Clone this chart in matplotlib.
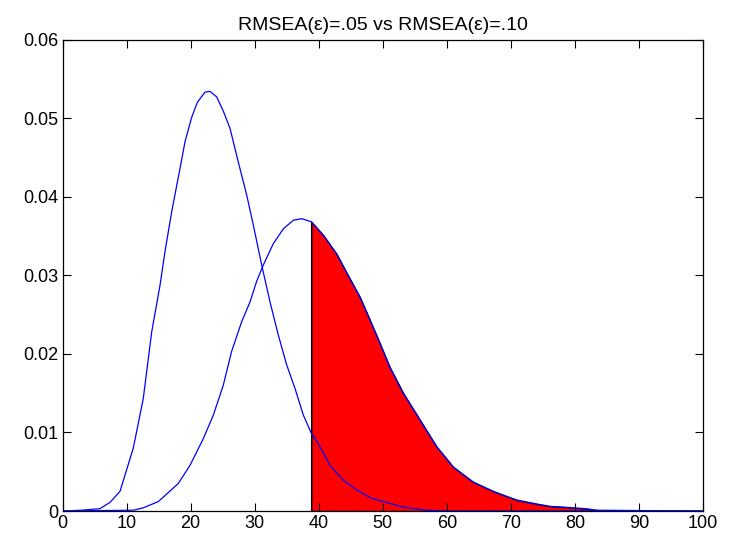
import matplotlib
matplotlib.use("Agg")
import matplotlib.pyplot as plt
import numpy as np

# Curve 1: RMSEA = .05 (left density)
x1 = [0, 3.0, 5.85, 7.42, 8.98, 11.05, 12.61, 13.93, 15.22, 16.0, 17.05, 18.35,
      19.13, 20.17, 21.05, 22.25, 23.03, 24.07, 25.1, 26.15, 27.45, 28.76, 29.79,
      31.1, 32.4, 33.69, 35.0, 36.3, 37.6, 38.85, 40.2, 41.76, 43.84, 45.93,
      48.0, 50.1, 53.2, 56.6, 60, 100]
y1 = [0, 0.0001, 0.0003, 0.0011, 0.0025, 0.0080, 0.0143, 0.0228, 0.0287, 0.0330,
      0.0381, 0.0436, 0.0470, 0.0501, 0.0520, 0.0533, 0.0534, 0.0527, 0.0509,
      0.0487, 0.0444, 0.0402, 0.0364, 0.0313, 0.0266, 0.0224, 0.0186, 0.0156,
      0.0122, 0.0099, 0.0082, 0.0058, 0.0039, 0.0027, 0.0017, 0.0012, 0.0005,
      0.0001, 0, 0]

# Curve 2: RMSEA = .10 (right density)
x2 = [0, 11.05, 12.6, 14.96, 18.08, 19.9, 21.98, 23.55, 25.1, 26.4, 27.98, 29.27,
      30.3, 31.35, 32.9, 34.47, 36.03, 37.35, 38.85, 40.72, 42.8, 44.37, 46.45,
      48.0, 49.57, 51.1, 53.2, 55.8, 58.4, 61.0, 64.1, 67.26, 70.9, 74.0, 76.1,
      78.1, 81.6, 83.5, 100]
y2 = [0, 0.0001, 0.0004, 0.0012, 0.0035, 0.0058, 0.0092, 0.0122, 0.0160, 0.0203,
      0.0241, 0.0266, 0.0292, 0.0313, 0.0340, 0.0359, 0.0370, 0.0372, 0.0368,
      0.0351, 0.0327, 0.0303, 0.0272, 0.0243, 0.0213, 0.0183, 0.0150, 0.0116,
      0.0082, 0.0056, 0.0037, 0.0025, 0.0014, 0.0009, 0.0006, 0.0005, 0.0003,
      0.0001, 0]

critical = 38.85
title = "RMSEA(ε)=.05 vs RMSEA(ε)=.10"
xticks = list(range(0, 101, 10))
yticks = [0, 0.01, 0.02, 0.03, 0.04, 0.05, 0.06]
ytick_labels = ["0", "0.01", "0.02", "0.03", "0.04", "0.05", "0.06"]

plt.rcParams['font.family'] = ['Liberation Sans Narrow', 'Liberation Sans', 'DejaVu Sans']

W, H = 733, 538
L, R, T, B = 62.5, 703, 39.5, 511
fig = plt.figure(figsize=(W / 100, H / 100), dpi=100)
ax = fig.add_axes([L / W, (H - B) / H, (R - L) / W, (B - T) / H])

x2a = np.array(x2)
y2a = np.array(y2)
mask = x2a >= critical
yc = np.interp(critical, x2a, y2a)
fx = np.concatenate([[critical], x2a[mask]])
fy = np.concatenate([[yc], y2a[mask]])
ax.fill_between(fx, 0, fy, facecolor='#ff0000', edgecolor='black', linewidth=0.9, zorder=1)
ax.plot([critical, critical], [0, yc], color='black', linewidth=0.8, zorder=2)

ax.plot(x1, y1, color='#0000ff', linewidth=0.9, zorder=3)
ax.plot(x2, y2, color='#0000ff', linewidth=0.9, zorder=3)

ax.set_xlim(0, 100)
ax.set_ylim(0, 0.06)
ax.set_xticks(xticks)
ax.set_yticks(yticks)
ax.set_yticklabels(ytick_labels)
ax.tick_params(direction='in', top=True, right=True, length=6, width=0.8,
               labelsize=13, pad=3)
for s in ax.spines.values():
    s.set_linewidth(0.9)
ax.set_title(title, fontsize=14, pad=7)

fig.savefig("out.png", dpi=100)
